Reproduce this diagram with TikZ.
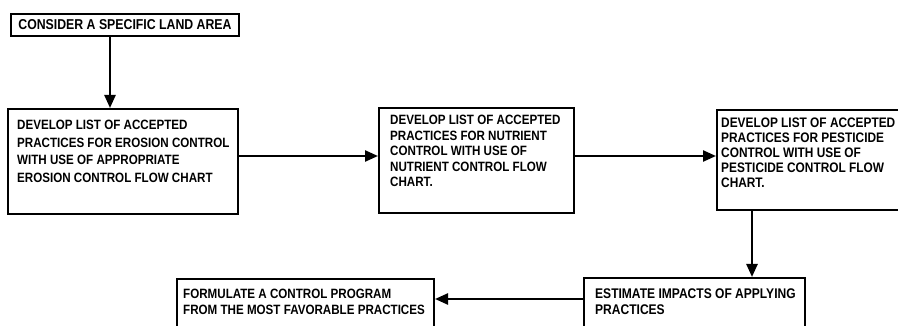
\documentclass[tikz,border=0pt]{standalone}
\usepackage{fontspec}
\setmainfont[FakeStretch=0.86]{Liberation Sans}
\usetikzlibrary{arrows.meta,calc}
\begin{document}
\begin{tikzpicture}[x=1pt,y=-1pt,
  box/.style={draw,line width=2pt,rectangle,inner sep=0pt,anchor=north west},
  txt/.style={anchor=north west,inner sep=0pt,align=left,font=\bfseries\fontsize{13.5}{#1}\selectfont},
  arr/.style={line width=2.4pt,-{Triangle[length=13pt,width=11pt]}}]
\useasboundingbox (0,0) rectangle (898,326);
\clip (0,0) rectangle (898,326);
\node[box,minimum width=228pt,minimum height=22pt,font=\bfseries\fontsize{14.3}{16}\selectfont] (b1) at (10,13) {CONSIDER A SPECIFIC LAND AREA};
\node[box,minimum width=230pt,minimum height=105pt] (b2) at (7,108) {};
\node[txt=17.5] (t2) at (17,120) {DEVELOP LIST OF ACCEPTED\\PRACTICES FOR EROSION CONTROL\\WITH USE OF APPROPRIATE\\EROSION CONTROL FLOW CHART};
\node[box,minimum width=195pt,minimum height=105pt] (b3) at (378,107) {};
\node[txt=15.5] (t3) at (390,115) {DEVELOP LIST OF ACCEPTED\\PRACTICES FOR NUTRIENT\\CONTROL WITH USE OF\\NUTRIENT CONTROL FLOW\\CHART.};
\node[box,minimum width=200pt,minimum height=100pt] (b4) at (716,109) {};
\node[txt=15,font=\bfseries\fontsize{13.8}{15}\selectfont] (t4) at (721,118) {DEVELOP LIST OF ACCEPTED\\PRACTICES FOR PESTICIDE\\CONTROL WITH USE OF\\PESTICIDE CONTROL FLOW\\CHART.};
\node[box,minimum width=221pt,minimum height=70pt] (b5) at (583,277) {};
\node[txt=16,font=\bfseries\fontsize{14}{16}\selectfont] (t5) at (595,289) {ESTIMATE IMPACTS OF APPLYING\\PRACTICES};
\node[box,minimum width=257pt,minimum height=70pt] (b6) at (176,278) {};
\node[txt=16] (t6) at (183,289) {FORMULATE A CONTROL PROGRAM\\FROM THE MOST FAVORABLE PRACTICES};
\draw[arr] ([xshift=100pt]b1.south west) -- ([xshift=100pt]b1.south west |- b2.north);
\draw[arr] ([yshift=5.5pt]b2.east) -- ([yshift=5.5pt]b2.east -| b3.west);
\draw[arr] ([yshift=4.5pt]b3.east) -- ([yshift=4.5pt]b3.east -| b4.west);
\draw[arr] ([xshift=36pt]b4.south west) -- ([xshift=36pt]b4.south west |- b5.north);
\draw[arr] ([yshift=-22pt]b5.north west) -- ([yshift=-22pt]b5.north west -| b6.east);
\end{tikzpicture}
\end{document}
